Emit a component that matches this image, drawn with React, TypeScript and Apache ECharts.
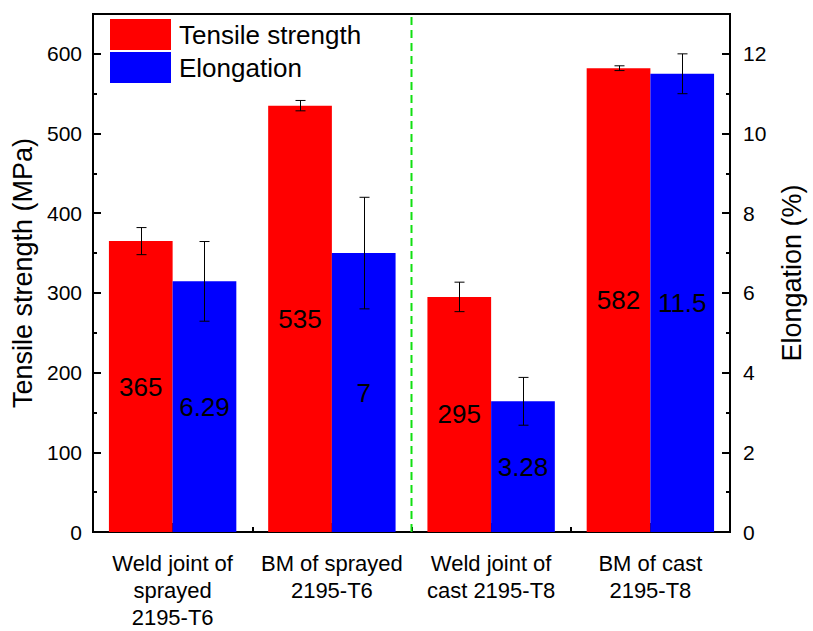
import React, { useEffect, useRef } from "react";
import * as echarts from "echarts";

const categories = [
  "Weld joint of\nsprayed\n2195-T6",
  "BM of sprayed\n2195-T6",
  "Weld joint of\ncast 2195-T8",
  "BM of cast\n2195-T8",
];
const tensile = [365, 535, 295, 582];
const tensileErr = [17, 6.5, 18.5, 3];
const elongation = [6.29, 7, 3.28, 11.5];
const elongationErr = [1.0, 1.4, 0.6, 0.5];
const separatorAfterIndex = 1;

const FONT = "Arial, 'Liberation Sans', sans-serif";

function errorRenderer(offsetFrac: number) {
  return (params: any, api: any) => {
    const x = api.value(0);
    const lo = api.coord([x, api.value(1)]);
    const hi = api.coord([x, api.value(2)]);
    const band = api.size([1, 0])[0];
    const cx = Math.round(lo[0] + band * offsetFrac) + 0.5;
    const cap = 5;
    const style = { stroke: "#000", lineWidth: 1 };
    return {
      type: "group",
      children: [
        { type: "line", shape: { x1: cx, y1: lo[1], x2: cx, y2: hi[1] }, style },
        { type: "line", shape: { x1: cx - cap, y1: lo[1], x2: cx + cap, y2: lo[1] }, style },
        { type: "line", shape: { x1: cx - cap, y1: hi[1], x2: cx + cap, y2: hi[1] }, style },
      ],
    };
  };
}

export default function App() {
  const ref = useRef<HTMLDivElement>(null);
  useEffect(() => {
    if (!ref.current) return;
    const chart = echarts.init(ref.current, undefined, { renderer: "svg" });
    const axisLine = { show: true, lineStyle: { color: "#000", width: 2 } };
    chart.setOption({
      animation: false,
      backgroundColor: "#fff",
      textStyle: { fontFamily: FONT },
      grid: {
        left: 93,
        right: 73,
        top: 14,
        bottom: 97,
        show: true,
        borderColor: "#000",
        borderWidth: 2,
        backgroundColor: "transparent",
      },
      legend: {
        data: ["Tensile strength", "Elongation"],
        orient: "vertical",
        left: 110,
        top: 19,
        padding: 0,
        itemWidth: 61,
        itemHeight: 31,
        itemGap: 2,
        icon: "rect",
        textStyle: { fontSize: 26, color: "#000", fontFamily: FONT, padding: [0, 0, 0, 3] },
      },
      xAxis: [
        {
          type: "category",
          data: categories,
          position: "bottom",
          axisLine,
          axisTick: { show: true, inside: true, alignWithLabel: true, length: 9, lineStyle: { color: "#000", width: 2 } },
          axisLabel: { fontSize: 22, color: "#000", lineHeight: 27, margin: 18, interval: 0, fontFamily: FONT },
          splitLine: { show: false },
        },
        {
          type: "category",
          data: categories,
          position: "bottom",
          axisLine: { show: false },
          axisTick: { show: true, inside: true, length: 5, lineStyle: { color: "#000", width: 2 } },
          axisLabel: { show: false },
          splitLine: { show: false },
        },
      ],
      yAxis: [
        {
          type: "value",
          position: "left",
          min: 0,
          max: 650,
          interval: 100,
          name: "Tensile strength (MPa)",
          nameLocation: "middle",
          nameRotate: 90,
          nameGap: 56,
          nameTextStyle: { fontSize: 27, color: "#000", fontFamily: FONT },
          axisLine,
          axisTick: { show: true, inside: true, length: 8, lineStyle: { color: "#000", width: 2 } },
          minorTick: { show: true, splitNumber: 2, length: 4, lineStyle: { color: "#000", width: 2 } },
          axisLabel: { fontSize: 21, color: "#000", margin: 11, showMaxLabel: false, fontFamily: FONT },
          splitLine: { show: false },
        },
        {
          type: "value",
          position: "right",
          min: 0,
          max: 13,
          interval: 2,
          name: "Elongation (%)",
          nameLocation: "middle",
          nameRotate: 90,
          nameGap: 48,
          nameTextStyle: { fontSize: 27, color: "#000", fontFamily: FONT },
          axisLine,
          axisTick: { show: true, inside: true, length: 8, lineStyle: { color: "#000", width: 2 } },
          minorTick: { show: true, splitNumber: 2, length: 4, lineStyle: { color: "#000", width: 2 } },
          axisLabel: { fontSize: 21, color: "#000", margin: 13, showMaxLabel: false, fontFamily: FONT },
          splitLine: { show: false },
        },
      ],
      series: [
        {
          name: "Tensile strength",
          type: "bar",
          xAxisIndex: 0,
          yAxisIndex: 0,
          data: tensile,
          barGap: "0%",
          barCategoryGap: "20%",
          itemStyle: { color: "#ff0000" },
          label: { show: true, position: "inside", fontSize: 26, color: "#000", fontFamily: FONT },
          z: 2,
        },
        {
          name: "Elongation",
          type: "bar",
          xAxisIndex: 0,
          yAxisIndex: 1,
          data: elongation,
          barGap: "0%",
          barCategoryGap: "20%",
          itemStyle: { color: "#0000ff" },
          label: { show: true, position: "inside", fontSize: 26, color: "#000", fontFamily: FONT },
          z: 2,
        },
        {
          name: "tensileErr",
          type: "custom",
          xAxisIndex: 0,
          yAxisIndex: 0,
          renderItem: errorRenderer(-0.2),
          encode: { x: 0, y: [1, 2] },
          data: tensile.map((v, i) => [i, v - tensileErr[i], v + tensileErr[i]]),
          z: 5,
          silent: true,
        },
        {
          name: "elongErr",
          type: "custom",
          xAxisIndex: 0,
          yAxisIndex: 1,
          renderItem: errorRenderer(0.2),
          encode: { x: 0, y: [1, 2] },
          data: elongation.map((v, i) => [i, v - elongationErr[i], v + elongationErr[i]]),
          z: 5,
          silent: true,
        },
        {
          name: "separator",
          type: "custom",
          xAxisIndex: 0,
          yAxisIndex: 0,
          renderItem: (params: any, api: any) => {
            const x = api.value(0);
            const bottom = api.coord([x, api.value(1)]);
            const top = api.coord([x, api.value(2)]);
            const band = api.size([1, 0])[0];
            const px = bottom[0] + band / 2;
            return {
              type: "line",
              shape: { x1: px, y1: bottom[1], x2: px, y2: top[1] },
              style: { stroke: "#11e011", lineWidth: 2, lineDash: [8, 5] },
            };
          },
          encode: { x: 0, y: [1, 2] },
          data: [[separatorAfterIndex, 0, 650]],
          z: 4,
          silent: true,
        },
      ],
    });
    return () => chart.dispose();
  }, []);
  return (
    <div
      ref={ref}
      style={{ position: "fixed", left: 0, top: 0, width: 813, height: 631 }}
    />
  );
}
